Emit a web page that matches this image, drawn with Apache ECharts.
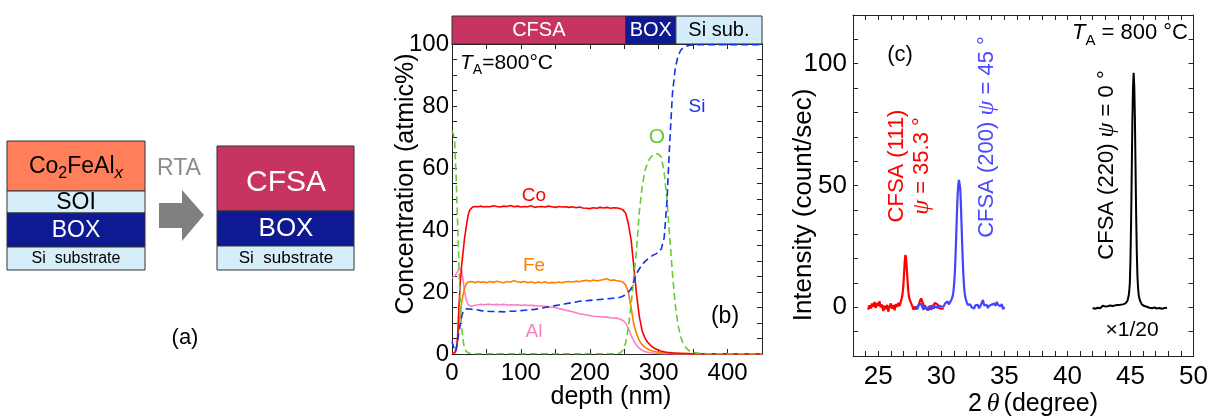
<!DOCTYPE html>
<html><head><meta charset="utf-8">
<script src="https://cdn.jsdelivr.net/npm/echarts@6/dist/echarts.min.js"></script>
<style>html,body{margin:0;padding:0;background:#fff;}#c{width:1211px;height:417px;}</style>
</head><body><div id="c"></div>
<script>
const FF = '"Liberation Sans", Arial, sans-serif';
const FS = '"Liberation Serif", "Times New Roman", serif';

// ---------- panel (b): depth profile ----------
const depth = [0,2,4,6,8,10,12,14,16,18,20,22,24,26,28,30,
  34,38,42,46,50,
  55,60,65,70,75,80,85,90,95,100,105,110,115,120,125,130,135,140,145,150,155,160,165,170,175,180,185,190,195,200,205,210,215,220,225,230,235,240,
  244,248,252,256,260,264,268,272,276,280,284,288,292,296,300,304,308,312,316,320,324,328,332,336,340,
  345,350,360,370,385,400,420,450];
const coConc = [0.3,0.2,0.4,1.5,5,15,23,28.5,32.6,37,40,43,45.3,46.5,47.1,47.4,
  47.6,47.5,47.7,47.4,47.6,
  47.5,47.8,47.6,47.4,47.7,47.6,47.9,47.5,47.7,47.4,47.6,47.5,47.8,47.3,47.5,47.6,47.4,47.7,47.5,47.3,47.6,47.4,47.5,47.3,47.5,47.2,47.4,47.1,47.0,46.9,47.2,47.0,47.3,47.1,47.3,47.0,47.2,47.1,
  46.9,46.5,45.5,42,36.8,28,19,12,7.5,5.2,3.8,2.8,2.1,1.6,1.2,0.9,0.7,0.55,0.45,0.35,0.3,0.25,0.2,0.18,0.15,
  0.12,0.1,0.08,0.06,0.05,0.04,0.03,0.03];
const feConc = [0.2,0.2,0.3,1.0,4,9,13,16.5,19,21,22.3,23,23.2,23.4,23.1,23.3,
  23.0,23.4,23.1,23.3,23.0,
  23.4,23.1,23.5,23.2,23.0,23.4,23.2,23.6,23.3,23.1,23.4,23.0,23.3,22.9,23.2,23.0,23.3,22.9,23.1,23.0,23.2,23.0,23.3,23.4,23.2,23.5,23.3,23.6,23.8,23.5,23.9,23.6,23.8,24.0,24.3,23.7,23.9,23.6,
  23.5,23.2,22.3,20,15,9.5,6.5,4.3,3.0,2.2,1.6,1.2,0.9,0.7,0.55,0.45,0.38,0.3,0.25,0.2,0.18,0.15,0.13,0.12,0.11,
  0.1,0.1,0.09,0.08,0.07,0.06,0.05,0.05];
const alConc = [24.5,25,25.2,25.8,26.5,27.5,27.8,27,24,20.5,18,16.6,15.8,15.4,15.3,15.5,
  15.7,15.9,16.0,15.9,16.0,
  16.0,15.9,16.0,15.9,16.0,15.8,15.9,15.8,15.9,15.7,15.8,15.7,15.7,15.6,15.5,15.5,15.4,15.3,15.1,15.0,14.7,14.4,14.1,13.9,13.6,13.3,13.0,12.8,12.6,12.4,12.2,12.1,12.0,11.9,11.9,11.7,11.6,11.5,
  11.3,10.8,10.0,8.3,6.0,4.2,2.8,1.8,1.2,0.8,0.55,0.4,0.3,0.22,0.17,0.13,0.1,0.08,0.07,0.06,0.05,0.05,0.04,0.04,0.04,
  0.03,0.03,0.03,0.03,0.03,0.03,0.03,0.03];
const oConc = [72,71,68,57,43,29,17,9,4.5,2.0,1.0,0.5,0.3,0.2,0.1,0.1,
  0.1,0.1,0.1,0.1,0.1,
  0.1,0.1,0.1,0.1,0.1,0.1,0.1,0.1,0.1,0.1,0.1,0.1,0.1,0.1,0.1,0.1,0.1,0.1,0.1,0.1,0.1,0.1,0.1,0.1,0.1,0.1,0.1,0.1,0.1,0.1,0.1,0.1,0.1,0.1,0.1,0.1,0.1,0.15,
  0.3,1.2,3.5,8.5,16,25,34,46,54,59,61.8,63.3,64.3,64.7,64.4,63.5,58.5,50,38,26,16,9.5,5.5,3.2,1.9,
  0.9,0.5,0.2,0.1,0.1,0.1,0.1,0.1];
const siConc = [4,2.5,0.8,1.5,4,7,9.5,12,13.6,14.3,14.5,14.6,14.6,14.5,14.5,14.4,
  14.3,14.2,14.0,13.9,13.8,
  13.7,13.7,13.6,13.7,13.6,13.7,13.8,13.8,13.9,14.0,14.1,14.2,14.3,14.4,14.6,14.8,15.0,15.2,15.4,15.6,15.8,16.0,16.2,16.4,16.6,16.8,17.0,17.1,17.2,17.3,17.4,17.5,17.6,17.7,17.8,17.9,18.0,18.1,
  18.3,18.6,19.2,20.0,21.0,23.5,26.0,27.5,28.8,29.8,30.6,31.3,31.9,32.3,32.8,34.0,37.5,49,68,84,92,96,98,98.9,99.3,
  99.6,99.7,99.8,99.8,99.8,99.8,99.8,99.8];
const layerNames = ['CFSA','BOX','Si sub.'];
const layerStart = [0,252,325];
const layerEnd = [252,325,450];

// ---------- panel (c): XRD ----------
const red2th = [24.2,24.3,24.4,24.5,24.6,24.7,24.8,24.9,25.0,25.1,25.2,25.3,25.4,25.5,25.6,25.7,25.8,25.9,26.0,26.1,26.2,26.3,26.4,26.5,26.6,26.7,26.8,
  26.85,26.9,26.95,27.0,27.05,27.1,27.15,27.2,27.25,27.3,27.35,27.4,27.45,27.5,
  27.6,27.7,27.8,27.9,28.0,28.1,28.2,28.3,28.4,28.5,28.6,28.7,28.8,28.9,29.0,29.1,29.2,29.3,29.4,29.5,29.6,29.7,29.8,29.9,30.0,30.1,30.2];
const redInt = [-1.0,0.8,-0.5,1.5,0.2,2.2,-0.3,1.8,0.5,2.5,0.0,1.2,-1.5,0.6,-0.8,1.0,-1.8,0.4,1.6,-0.6,0.9,-1.2,1.3,0.2,1.8,0.5,2.5,
  3.2,4.5,6.5,9.5,14,18.5,21.4,20.5,17,13,9,6,4,3,
  1.8,0.5,-1.0,0.3,-0.8,-1.5,0.8,2.5,3.6,2.8,0.9,-0.7,0.3,-1.2,-0.4,0.6,-1.0,0.2,1.0,1.8,2.2,1.2,-0.3,0.5,-0.6,0.2,-0.5];
const blue2th = [28.0,28.1,28.2,28.3,28.4,28.5,28.6,28.7,28.8,28.9,29.0,29.1,29.2,29.3,29.4,29.5,29.6,29.7,29.8,29.9,30.0,30.1,30.2,30.3,30.4,30.5,30.6,30.7,30.8,30.9,
  30.95,31.0,31.05,31.1,31.15,31.2,31.25,31.3,31.35,31.4,31.45,31.5,31.55,31.6,31.65,31.7,31.75,31.8,31.85,31.9,
  32.0,32.1,32.2,32.3,32.4,32.5,32.6,32.7,32.8,32.9,33.0,33.1,33.2,33.3,33.4,33.5,33.6,33.7,33.8,33.9,34.0,34.1,34.2,34.3,34.4,34.5,34.6,34.7,34.8,34.9,35.0];
const blueInt = [0.5,-0.8,1.0,0.2,1.5,0.0,-1.0,0.8,-0.5,0.3,-1.2,0.6,-0.3,0.9,-0.6,0.4,1.2,-0.2,0.7,1.5,0.3,1.0,0.4,1.6,0.8,2.4,1.2,2.0,3.0,4.5,
  6,8.5,12,17,24,32,40,46.5,50.5,52.3,52,49,43,35,27,19.5,13.5,9,6,4.3,
  2.2,1.0,0.4,1.2,0.0,0.6,-0.5,0.8,0.1,1.0,-0.4,0.5,1.2,3.0,0.8,0.2,1.0,-0.3,0.6,0.0,1.1,0.3,1.5,0.6,2.2,1.0,1.8,0.4,1.3,-0.8,0.2];
const black2th = [42.0,42.1,42.2,42.3,42.4,42.5,42.6,42.7,42.8,42.9,43.0,43.1,43.2,43.3,43.4,43.5,43.6,43.7,43.8,43.9,44.0,44.1,44.2,44.3,44.4,44.5,44.6,44.7,
  44.75,44.8,44.85,44.9,44.95,45.0,45.05,45.1,45.15,45.2,45.25,45.3,45.35,45.4,45.45,45.5,45.55,45.6,45.65,45.7,45.75,
  45.8,45.9,46.0,46.1,46.2,46.3,46.4,46.5,46.6,46.7,46.8,46.9,47.0,47.1,47.2,47.3,47.4,47.5,47.6,47.7,47.8,47.9];
const blackInt = [-0.3,0.4,-0.6,0.2,-0.2,0.5,-0.4,0.1,0.6,-0.2,0.3,-0.5,0.4,0.0,0.7,-0.1,0.5,0.2,0.8,0.3,0.9,0.4,1.0,0.6,1.2,1.0,1.6,2.0,
  2.5,3.2,4.5,6.5,10,20,35,56,76,90,96.3,91,78,58,38,23,13,8,5.2,3.8,2.8,
  2.0,1.2,1.0,0.5,0.8,0.2,0.5,-0.2,0.3,-0.4,0.2,-0.1,0.4,-0.5,0.1,-0.3,0.3,-0.6,0.0,-0.3,0.2,-0.2];

// ---------- chart ----------
const pair = (xs, ys) => xs.map((x, i) => [x, ys[i]]);
const AX = '#222';
function xAx(grid, min, max, interval, pos, labelFn, fs, margin) {
  return {gridIndex: grid, type: 'value', min, max, interval, position: pos,
    axisLine: {show: true, onZero: false, lineStyle: {color: AX, width: 1}},
    axisTick: {show: true, inside: true, length: 5, lineStyle: {color: AX}},
    axisLabel: labelFn ? {show: true, formatter: labelFn, fontSize: fs, fontFamily: FF, color: '#000', margin} : {show: false},
    splitLine: {show: false}};
}
const lbl100 = v => (v % 100 === 0 ? String(v) : '');
const lbl20 = v => (v % 20 === 0 ? String(v) : '');
const lbl5 = v => (Math.abs(v % 5) < 1e-6 ? String(Math.round(v)) : '');
const lbl50 = v => (v % 50 === 0 ? String(v) : '');

const xAxis = [
  xAx(0, 0, 450, 50, 'bottom', lbl100, 24, 7),
  xAx(0, 0, 450, 50, 'top', null),
  xAx(1, 23, 50, 1, 'bottom', lbl5, 26, 8),
  xAx(1, 23, 50, 1, 'top', null),
  {gridIndex: 2, type: 'value', min: 0, max: 450, show: false}
];
const yAxis = [
  xAx(0, 0, 100, 5, 'left', lbl20, 24, 3),
  xAx(0, 0, 100, 5, 'right', null),
  xAx(1, -20, 120, 10, 'left', lbl50, 26, 6),
  xAx(1, -20, 120, 10, 'right', null),
  {gridIndex: 2, type: 'value', min: 0, max: 1, show: false}
];

const layerFill = ['#C83462', '#0E1A92', '#D5EDFA'];
const layerTxt = ['#fff', '#fff', '#000'];

function line(name, xi, yi, data, color, dashed, w) {
  return {name, type: 'line', xAxisIndex: xi, yAxisIndex: yi, data, showSymbol: false, symbol: 'none',
    lineStyle: {color, width: w, type: dashed ? [7, 4] : 'solid'}, itemStyle: {color}, silent: true, z: 3};
}

const series = [
  line('Al', 0, 0, pair(depth, alConc), '#FF7EC2', false, 1.6),
  line('Fe', 0, 0, pair(depth, feConc), '#FF8000', false, 1.6),
  line('Co', 0, 0, pair(depth, coConc), '#FF0000', false, 1.6),
  line('O', 0, 0, pair(depth, oConc), '#66CC33', true, 1.6),
  line('Si', 0, 0, pair(depth, siConc), '#1034E6', true, 1.6),
  line('111', 2, 2, pair(red2th, redInt), '#FF0000', false, 2.2),
  line('200', 2, 2, pair(blue2th, blueInt), '#4444FF', false, 2.2),
  line('220', 2, 2, pair(black2th, blackInt), '#000000', false, 2),
  {type: 'custom', xAxisIndex: 4, yAxisIndex: 4, clip: false, silent: true,
    data: layerNames.map((n, i) => [layerStart[i], layerEnd[i]]),
    renderItem: function (params, api) {
      const i = params.dataIndex;
      const p0 = api.coord([api.value(0), 1]);
      const p1 = api.coord([api.value(1), 0]);
      return {type: 'group', children: [
        {type: 'rect', shape: {x: p0[0], y: p0[1], width: p1[0] - p0[0], height: p1[1] - p0[1]},
          style: {fill: layerFill[i], stroke: '#333', lineWidth: 1}},
        {type: 'text', style: {text: layerNames[i], x: (p0[0] + p1[0]) / 2, y: (p0[1] + p1[1]) / 2,
          align: 'center', verticalAlign: 'middle', fill: layerTxt[i], font: '20px ' + FF}}
      ]};
    }}
];

// ---------- graphics (schematic + annotations) ----------
const g = [];
function rect(x, y, w, h, fill) {
  g.push({type: 'rect', shape: {x, y, width: w, height: h}, style: {fill, stroke: '#333', lineWidth: 1}, z: 1});
}
function txt(x, y, text, font, fill, opt) {
  const o = Object.assign({align: 'center', verticalAlign: 'middle'}, opt || {});
  const el = {type: 'text', x, y, z: 10, style: {text, font, fill, align: o.align, verticalAlign: o.verticalAlign}};
  if (o.rich) el.style.rich = o.rich;
  if (o.rotation) el.rotation = o.rotation;
  g.push(el);
}
// left stack
rect(7, 141, 138, 50, '#FF7F5A');
rect(7, 191, 138, 22, '#D6EEFA');
rect(7, 213, 138, 34, '#0D1A92');
rect(7, 247, 138, 23, '#D6EEFA');
// right stack
rect(217, 146, 137, 65, '#C83462');
rect(217, 211, 137, 35, '#0D1A92');
rect(217, 246, 137, 24, '#D6EEFA');
// arrow
g.push({type: 'polygon', shape: {points: [[159, 203], [182, 203], [182, 190], [204, 215], [182, 241], [182, 228], [159, 228]]},
  style: {fill: '#808080'}, z: 1});
txt(76, 167, '{m|Co}{s|2}{m|FeAl}{x|x}', '23px ' + FF, '#000', {rich: {
  m: {fontSize: 23, fontFamily: FF, lineHeight: 30, fill: '#000'},
  s: {fontSize: 16, fontFamily: FF, lineHeight: 16, verticalAlign: 'bottom', fill: '#000'},
  x: {fontSize: 17, fontFamily: FF, fontStyle: 'italic', lineHeight: 16, verticalAlign: 'bottom', fill: '#000'}}});
txt(76, 203, 'SOI', '23px ' + FF, '#000');
txt(76, 231, 'BOX', '23px ' + FF, '#fff');
txt(76, 259, 'Si  substrate', '16px ' + FF, '#000');
txt(286, 183, 'CFSA', '30px ' + FF, '#fff');
txt(286, 229, 'BOX', '26px ' + FF, '#fff');
txt(286, 258, 'Si  substrate', '17px ' + FF, '#000');
txt(179, 169, 'RTA', '23px ' + FF, '#8C8C8C');
txt(185, 338, '(a)', '22px ' + FF, '#000');

// panel (b) annotations
const richTA = (fs, sub) => ({
  i: {fontSize: fs, fontFamily: FF, fontStyle: 'italic', lineHeight: fs + 8, fill: '#000'},
  s: {fontSize: sub, fontFamily: FF, lineHeight: sub, verticalAlign: 'bottom', fill: '#000'},
  n: {fontSize: fs, fontFamily: FF, lineHeight: fs + 8, fill: '#000'}});
txt(460, 63, '{i|T}{s|A}{n|=800°C}', '21px ' + FF, '#000', {align: 'left', rich: richTA(21, 14)});
txt(534, 196, 'Co', '19px ' + FF, '#FF0000');
txt(534, 266, 'Fe', '19px ' + FF, '#FF8000');
txt(534, 332, 'Al', '19px ' + FF, '#F77FBE');
txt(657, 137, 'O', '21px ' + FF, '#66CC33');
txt(697, 107, 'Si', '19px ' + FF, '#1034E6');
txt(725, 317, '(b)', '23px ' + FF, '#000');
txt(406, 184, 'Concentration (atmic%)', '25px ' + FF, '#000', {rotation: Math.PI / 2});
txt(611, 397, 'depth (nm)', '25px ' + FF, '#000');

// panel (c) annotations
txt(900, 55, '(c)', '22px ' + FF, '#000');
txt(1188, 33, '{i|T}{s|A}{n| = 800 °C}', '22px ' + FF, '#000', {align: 'right', rich: richTA(22, 15)});
const richPsi = (c) => ({
  n: {fontSize: 22, fontFamily: FF, lineHeight: 25, fill: c},
  p: {fontSize: 24, fontFamily: FS, fontStyle: 'italic', lineHeight: 25, fill: c}});
txt(909, 166, '{n|CFSA (111)}\n{p|ψ}{n| = 35.3 °}', '22px ' + FF, '#FF0000', {rotation: Math.PI / 2, rich: richPsi('#FF0000')});
txt(987, 137, '{n|CFSA (200) }{p|ψ}{n| = 45 °}', '22px ' + FF, '#4A4AFF', {rotation: Math.PI / 2, rich: richPsi('#4A4AFF')});
txt(1107, 165, '{n|CFSA (220) }{p|ψ}{n| = 0 °}', '22px ' + FF, '#000', {rotation: Math.PI / 2, rich: richPsi('#000')});
txt(1132, 330, '×1/20', '21px ' + FF, '#000');
txt(804, 205, 'Intensity (count/sec)', '26px ' + FF, '#000', {rotation: Math.PI / 2});
txt(1033, 404, '{n|2\u2009}{t|θ}{n|(degree)}', '25px ' + FF, '#000', {rich: {
  n: {fontSize: 25, fontFamily: FF, fill: '#000'},
  t: {fontSize: 26, fontFamily: FS, fontStyle: 'italic', fill: '#000', padding: [0, 4, 0, 0]}}});

const chart = echarts.init(document.getElementById('c'), null, {renderer: 'canvas'});
chart.setOption({
  animation: false,
  backgroundColor: '#fff',
  grid: [
    {left: 452, top: 44, width: 310, height: 310},
    {left: 853, top: 15, width: 343, height: 341},
    {left: 452, top: 16, width: 310, height: 28}
  ],
  xAxis, yAxis, series,
  graphic: {elements: g}
});
</script></body></html>
